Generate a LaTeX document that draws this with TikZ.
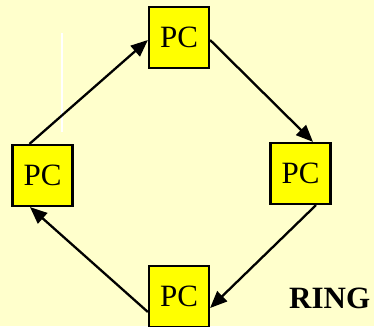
\documentclass[tikz,border=0pt]{standalone}
\usepackage{fontspec}
\setmainfont{Liberation Serif}
\usetikzlibrary{arrows.meta}
\definecolor{paper}{HTML}{FFFFCC}
\definecolor{pcyellow}{HTML}{FFFF00}
\tikzset{
	pcbox/.style={draw=black, line width=2.2pt, fill=pcyellow, minimum width=60pt, minimum height=61pt, inner sep=0pt, font=\fontsize{31}{37}\selectfont},
	link/.style={line width=2.3pt, -{Triangle[length=17pt, width=14pt]}}
}

\begin{document}
\begin{tikzpicture}[x=1pt, y=-1pt]
			%%%%% START %%%%%
			
			\useasboundingbox (0, 0) rectangle (374, 326);
			\fill[paper] (0, 0) rectangle (374, 326);
			\clip (0, 0) rectangle (374, 326);
			
			\draw[white, line width=1.5pt] (62, 33) -- (62, 132);
			
			\node[pcbox] (pct) at (179, 37.5) {PC};
			\node[pcbox] (pcl) at (42.5, 175.5) {PC};
			\node[pcbox] (pcr) at (300.5, 173.5) {PC};
			\node[pcbox] (pcb) at (179, 296.5) {PC};
			
			\draw[link] ([xshift=-13pt]pcl.north) -- ([yshift=-2.5pt]pct.west);
			\draw[link] ([yshift=-2.5pt]pct.east) -- ([xshift=12.5pt]pcr.north);
			\draw[link] ([xshift=15.5pt]pcr.south) -- ([yshift=-11.5pt]pcb.east);
			\draw[link] ([yshift=-15.5pt]pcb.west) -- ([xshift=-12.5pt]pcl.south);
			
			\node[font=\fontsize{31}{37}\selectfont\bfseries, anchor=base west, inner sep=0pt] (ring) at (289, 308) {RING};
			
			%%%%% END %%%%%
\end{tikzpicture}
\end{document}
